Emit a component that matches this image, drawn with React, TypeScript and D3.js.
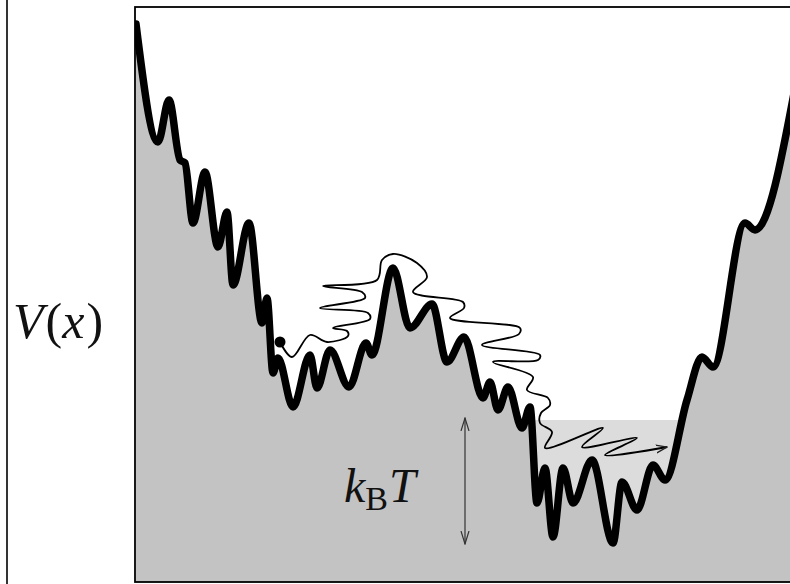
import React from "react";
import * as d3 from "d3";

// Landscape V(x): x measured from left frame, V measured up from bottom frame
const landscapeX = [1, 23, 34, 45, 50, 58, 70, 83, 92, 98, 114, 127, 132, 138, 143, 158, 175, 182, 195, 214, 231, 237, 258, 275, 297, 312, 329, 348, 355, 363, 373, 387, 395, 402, 410, 418, 428, 438, 457, 478, 487, 502, 518, 530, 552, 567, 578, 610, 620, 660];
const landscapeV = [557, 439, 481, 421, 418, 358, 409, 334, 369, 296, 358, 258, 283, 208, 223, 174, 226, 193, 231, 194, 238, 226, 313, 253, 277, 219, 244, 183, 199, 171, 194, 153, 174, 78, 113, 44, 113, 78, 121, 38, 99, 71, 116, 101, 181, 224, 214, 358, 351, 493];

// Brownian trajectory of the particle
const pathX = [145, 157, 175, 192, 213, 212, 198, 235, 233, 185, 230, 227, 188, 242, 247, 258, 282, 292, 278, 328, 329, 315, 385, 384, 347, 405, 403, 358, 398, 392, 413, 415, 406, 405, 417, 410, 468, 447, 502, 470, 532];
const pathV = [239, 224, 246, 239, 245, 250, 253, 262, 268, 273, 283, 289, 295, 301, 321, 327, 318, 304, 289, 279, 273, 263, 253, 247, 236, 226, 221, 219, 204, 191, 183, 176, 168, 158, 149, 133, 153, 134, 143, 126, 134];

// Thermal energy level band & kBT arrow
const bandX = [399, 560];
const bandV = 161;
const kbtArrowX = 330;
const kbtArrowV = [163, 37];
const ballX = 145;
const ballV = 239;

export default function App() {
  const W = 790, H = 584;
  const x = d3.scaleLinear().domain([0, 655]).range([135, 790]);
  const y = d3.scaleLinear().domain([0, 574]).range([581, 7]);

  const pts: [number, number][] = landscapeX.map((d, i) => [d, landscapeV[i]]);
  const line = d3.line<[number, number]>().x(d => x(d[0])).y(d => y(d[1])).curve(d3.curveMonotoneX);
  const area = d3.area<[number, number]>().x(d => x(d[0])).y0(y(-10)).y1(d => y(d[1])).curve(d3.curveMonotoneX);

  const tpts: [number, number][] = pathX.map((d, i) => [d, pathV[i]]);
  const tline = d3.line<[number, number]>().x(d => x(d[0])).y(d => y(d[1])).curve(d3.curveCatmullRom.alpha(0.5));

  return (
    <svg width={W} height={H} style={{ position: "absolute", left: 0, top: 0, background: "#fff" }}>
      <defs>
        <clipPath id="plot">
          <rect x={135} y={7} width={700} height={575} />
        </clipPath>
        <marker id="headT" viewBox="0 0 12 10" refX="11" refY="5" markerWidth="12" markerHeight="10" orient="auto" markerUnits="userSpaceOnUse">
          <path d="M0,1 L11,5 L0,9" fill="none" stroke="#222" strokeWidth={1.3} />
        </marker>
        <marker id="headK" viewBox="0 0 14 10" refX="13" refY="5" markerWidth="14" markerHeight="10" orient="auto-start-reverse" markerUnits="userSpaceOnUse">
          <path d="M0,1 L13,5 L0,9" fill="none" stroke="#333" strokeWidth={1.2} />
        </marker>
      </defs>
      <line x1={7} y1={0} x2={7} y2={H} stroke="#000" strokeWidth={1.6} />
      <g clipPath="url(#plot)">
        <rect x={x(bandX[0])} y={y(bandV)} width={x(bandX[1]) - x(bandX[0])} height={y(-10) - y(bandV)} fill="#dcdcdc" />
        <path d={area(pts) || ""} fill="#c3c3c3" />
        <path d={line(pts) || ""} fill="none" stroke="#000" strokeWidth={7.5} strokeLinejoin="round" strokeLinecap="round" />
        <path d={tline(tpts) || ""} fill="none" stroke="#000" strokeWidth={1.8} markerEnd="url(#headT)" />
        <circle cx={x(ballX)} cy={y(ballV)} r={5.5} fill="#000" />
        <line x1={x(kbtArrowX)} y1={y(kbtArrowV[0])} x2={x(kbtArrowX)} y2={y(kbtArrowV[1])} stroke="#333" strokeWidth={1.2} markerStart="url(#headK)" markerEnd="url(#headK)" />
      </g>
      <rect x={135} y={7} width={700} height={575} fill="none" stroke="#000" strokeWidth={1.8} />
      <text x={13} y={338} fontFamily="'Liberation Serif', serif" fontSize={50} fill="#111">
        <tspan fontStyle="italic">V</tspan><tspan dx={2}>(</tspan><tspan fontStyle="italic">x</tspan><tspan dx={2}>)</tspan>
      </text>
      <text x={344} y={502} fontFamily="'Liberation Serif', serif" fontSize={48} fill="#111">
        <tspan fontStyle="italic">k</tspan>
        <tspan fontSize={34} dy={8}>B</tspan>
        <tspan fontStyle="italic" dy={-8} dx={1}>T</tspan>
      </text>
    </svg>
  );
}
